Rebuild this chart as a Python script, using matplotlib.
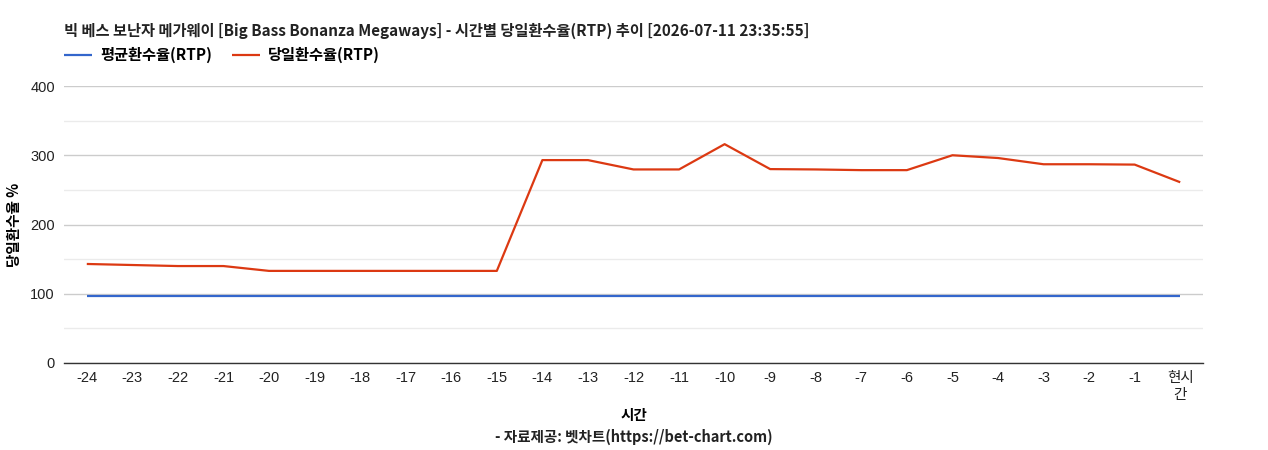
import numpy as np
import matplotlib
matplotlib.use('Agg')
import matplotlib.pyplot as plt

plt.rcParams['font.family'] = ['Liberation Sans', 'Noto Sans CJK KR', 'DejaVu Sans']
KR = ['Noto Sans CJK KR', 'DejaVu Sans']

# data
hours = ['-24', '-23', '-22', '-21', '-20', '-19', '-18', '-17', '-16', '-15',
         '-14', '-13', '-12', '-11', '-10', '-9', '-8', '-7', '-6', '-5',
         '-4', '-3', '-2', '-1', '현시\n간']
avg_rtp = [96.5] * 25
day_rtp = [143, 141.5, 140, 140, 133, 133, 133, 133, 133, 133,
           293, 293, 279.5, 279.5, 316, 280, 279.5, 278.5, 278.5, 300,
           296, 287, 287, 286.5, 261]

title = '빅 베스 보난자 메가웨이 [Big Bass Bonanza Megaways] - 시간별 당일환수율(RTP) 추이 [2026-07-11 23:35:55]'

fig = plt.figure(figsize=(12.68, 4.5), dpi=100)
ax = fig.add_axes([64 / 1268, 1 - 363 / 450, (1203 - 64) / 1268, (363 - 86) / 450])

x = np.arange(len(hours))
ax.plot(x, avg_rtp, color='#3366cc', lw=1.6, label='평균환수율(RTP)', solid_capstyle='butt')
ax.plot(x, day_rtp, color='#dc3912', lw=1.6, label='당일환수율(RTP)', solid_capstyle='butt')

ax.set_xlim(-0.5, len(hours) - 0.5)
ax.set_ylim(0, 400)
ax.set_yticks([0, 100, 200, 300, 400])
ax.set_yticks([50, 150, 250, 350], minor=True)
ax.grid(axis='y', which='major', color='#cccccc', lw=1)
ax.grid(axis='y', which='minor', color='#ebebeb', lw=1)
ax.set_axisbelow(True)
ax.set_xticks(x)
ax.set_xticklabels(hours, fontsize=10.5, linespacing=1.2)
ax.tick_params(axis='both', which='both', length=0, labelsize=10.5, colors='#222222')
ax.tick_params(axis='x', pad=6)
ax.tick_params(axis='y', pad=6.5)
for s in ['top', 'right', 'left']:
    ax.spines[s].set_visible(False)
ax.spines['bottom'].set_color('#333333')
ax.spines['bottom'].set_linewidth(1)

ax.set_ylabel('당일환수율 %', fontsize=10.5, fontweight='bold', family=KR)
ax.yaxis.set_label_coords(-42 / 1139, 0.5)
ax.set_xlabel('시간', fontsize=10.5, fontweight='bold', labelpad=4, family=KR)

fig.text(64 / 1268, 1 - 31 / 450, title, fontsize=11, fontweight='bold', va='center', ha='left',
         color='#222222', family=KR)
fig.text(0.5 * (65 + 1203) / 1268, 1 - 437 / 450, '- 자료제공: 벳차트(https://bet-chart.com)',
         fontsize=10.5, fontweight='bold', ha='center', va='center', color='#222222', family=KR)

leg = ax.legend(loc='center left', bbox_to_anchor=(64 / 1268, 1 - 55 / 450), bbox_transform=fig.transFigure,
                ncol=2, frameon=False, handlelength=1.85, handletextpad=0.5, columnspacing=1.3,
                prop={'weight': 'bold', 'size': 11, 'family': KR}, borderpad=0, borderaxespad=0)

fig.savefig('out.png', dpi=100)
